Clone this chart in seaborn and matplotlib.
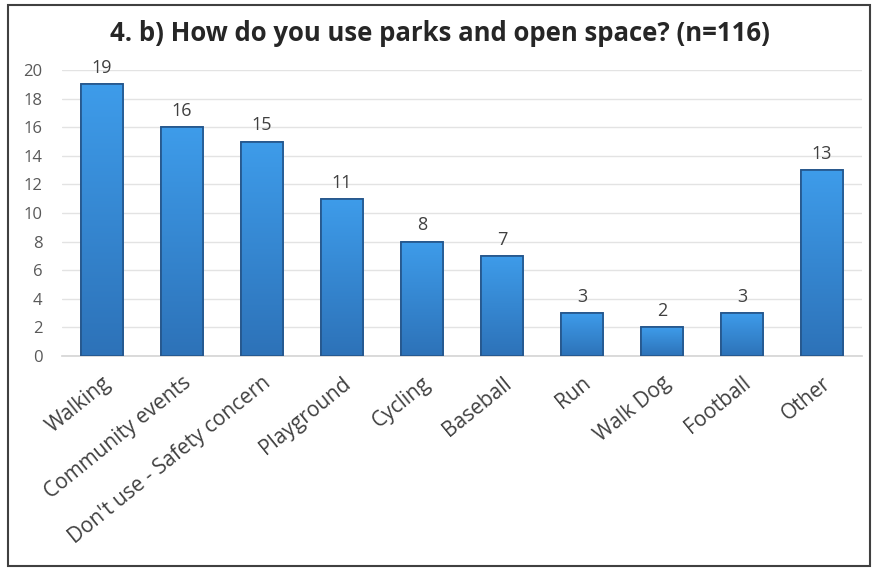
#!/usr/bin/env python3
"""Bar chart: how respondents use parks and open space (n=116)."""

import matplotlib
matplotlib.use("Agg")
import matplotlib.pyplot as plt
import matplotlib.patches as mpatches
from matplotlib.colors import LinearSegmentedColormap
import numpy as np
import pandas as pd
import seaborn as sns

categories = [
    "Walking", "Community events", "Don't use - Safety concern", "Playground",
    "Cycling", "Baseball", "Run", "Walk Dog", "Football", "Other",
]
counts = [19, 16, 15, 11, 8, 7, 3, 2, 3, 13]
y_ticks = [0, 2, 4, 6, 8, 10, 12, 14, 16, 18, 20]
title = "4. b) How do you use parks and open space? (n=116)"


def shade_bars(ax):
    """Overlay a vertical blue gradient on each bar, clipped to the bar."""
    cmap = LinearSegmentedColormap.from_list("bar", ["#2d72b8", "#3e9cea"])
    grad = np.linspace(0, 1, 256).reshape(-1, 1)
    for patch in ax.patches:
        x0, y0 = patch.get_x(), patch.get_y()
        w, h = patch.get_width(), patch.get_height()
        im = ax.imshow(grad, cmap=cmap, aspect="auto", origin="lower",
                       extent=[x0, x0 + w, y0, y0 + h], zorder=3.5)
        im.set_clip_path(patch)
    ax.set_xlim(-0.5, len(categories) - 0.5)


def create_figure():
    sns.set_theme(style="white")
    plt.rcParams["font.family"] = ["Open Sans", "DejaVu Sans"]

    df = pd.DataFrame({"category": categories, "count": counts})

    fig = plt.figure(figsize=(8.75, 5.7), dpi=100)
    ax = fig.add_axes([0.071, 0.3754, 0.914, 0.5018])

    sns.barplot(
        data=df, x="category", y="count", order=categories,
        color="#3585d0", edgecolor="#24558a", linewidth=1.2,
        width=0.53, saturation=1, ax=ax, zorder=3,
    )
    shade_bars(ax)
    # redraw outlines above the gradient
    for patch in list(ax.patches):
        outline = mpatches.Rectangle((patch.get_x(), patch.get_y()),
                                     patch.get_width(), patch.get_height(),
                                     fill=False, edgecolor="#24558a",
                                     linewidth=1.2, zorder=4)
        ax.add_patch(outline)

    ax.set_ylim(0, 20)
    ax.set_yticks(y_ticks)
    ax.yaxis.grid(True, color="#e3e3e3", linewidth=1.0, zorder=0)
    ax.set_axisbelow(True)
    for side in ["top", "right", "left"]:
        ax.spines[side].set_visible(False)
    ax.spines["bottom"].set_color("#d6d6d6")
    ax.set_xlabel("")
    ax.set_ylabel("")

    ax.tick_params(axis="y", length=0, labelsize=12, labelcolor="#595959", pad=14)
    ax.tick_params(axis="x", length=0, labelsize=15, labelcolor="#404040", pad=12)
    ax.set_xticks(range(len(categories)))
    ax.set_xticklabels(categories, rotation=39, ha="right", rotation_mode="anchor")

    for i, v in enumerate(counts):
        ax.text(i, v + 0.5, str(v), ha="center", va="bottom",
                fontsize=13, color="#404040", clip_on=False)

    fig.text(0.503, 0.942, title, ha="center", va="center",
             fontsize=18.5, fontweight="bold", color="#262626")

    border = mpatches.Rectangle((0.0095, 0.007), 0.985, 0.985,
                                transform=fig.transFigure, fill=False,
                                edgecolor="#404040", linewidth=1.5)
    fig.patches.append(border)
    return fig


def main():
    fig = create_figure()
    fig.savefig("out.png", dpi=100, facecolor="white")
    plt.close(fig)


if __name__ == "__main__":
    main()
